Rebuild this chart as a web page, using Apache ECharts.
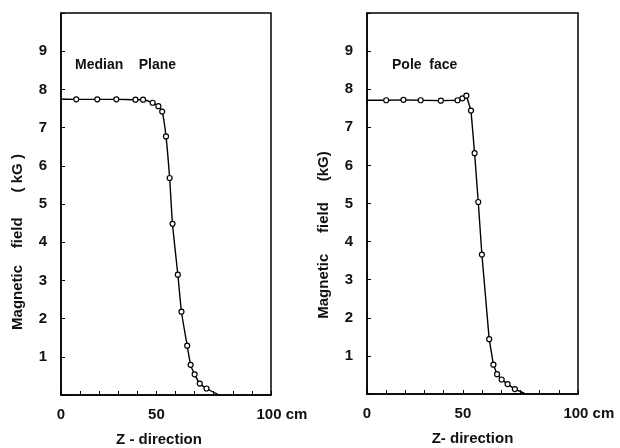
<!DOCTYPE html>
<html>
<head>
<meta charset="utf-8">
<script src="https://cdn.jsdelivr.net/npm/echarts@6/dist/echarts.min.js"></script>
<style>
  html, body { margin: 0; padding: 0; background: #fff; }
  #chart { width: 620px; height: 448px; }
</style>
</head>
<body>
<div id="chart"></div>
<script>
// z position (cm) and field (kG)
var medianZ = [0, 8, 19, 29, 39, 43, 48, 51, 53, 55, 56.9, 58.4, 61.2, 63.1, 66.1, 67.9, 70, 72.7, 76.2, 82];
var medianB = [7.75, 7.74, 7.74, 7.74, 7.73, 7.73, 7.65, 7.56, 7.42, 6.77, 5.68, 4.48, 3.15, 2.18, 1.29, 0.79, 0.54, 0.3, 0.17, 0.02];
var poleZ = [0, 10, 19, 28, 38.5, 47.2, 49.7, 51.8, 54.2, 56.1, 58, 59.9, 63.7, 65.9, 67.8, 70.2, 73.3, 77.1, 82];
var poleB = [7.71, 7.71, 7.72, 7.71, 7.7, 7.71, 7.76, 7.83, 7.44, 6.32, 5.04, 3.66, 1.44, 0.77, 0.52, 0.38, 0.26, 0.13, 0.02];
var xLabels = { 0: '0', 50: '50', 100: '{far|100 cm}' };
var yTicks = [1, 2, 3, 4, 5, 6, 7, 8, 9];

var font = 'Liberation Sans';

function points(xs, ys) {
  var out = [];
  for (var i = 0; i < xs.length; i++) {
    var p = { value: [xs[i], ys[i]] };
    // line runs in from the axis and out into it; no circle there
    if (i === 0 || i === xs.length - 1) p.symbol = 'none';
    out.push(p);
  }
  return out;
}

function xAxis(idx, pad) {
  return {
    gridIndex: idx,
    type: 'value',
    min: 0,
    max: 110,
    interval: 10,
    name: idx === 0 ? 'Z - direction' : 'Z- direction',
    nameLocation: 'middle',
    nameGap: 37,
    nameTextStyle: { fontFamily: font, fontSize: 15, fontWeight: 'bold', color: '#111', padding: pad },
    axisLine: { show: true, lineStyle: { color: '#000', width: 1.5 } },
    axisTick: { show: true, inside: true, length: 4, lineStyle: { color: '#000' } },
    axisLabel: {
      interval: 0,
      margin: 12,
      fontFamily: font,
      fontSize: 15,
      fontWeight: 'bold',
      color: '#111',
      formatter: function (v) { return xLabels[v] || ''; },
      rich: { far: { fontFamily: font, fontSize: 15, fontWeight: 'bold', color: '#111', padding: [0, 0, 0, 60] } }
    },
    splitLine: { show: false }
  };
}

function yAxis(idx, name, pad) {
  return {
    gridIndex: idx,
    type: 'value',
    min: 0,
    max: 10,
    interval: 1,
    name: name,
    nameLocation: 'middle',
    nameGap: 36,
    nameTextStyle: { fontFamily: font, fontSize: 15, fontWeight: 'bold', color: '#111', padding: pad },
    axisLine: { show: true, lineStyle: { color: '#000', width: 1.5 } },
    axisTick: { show: true, inside: true, length: 4, lineStyle: { color: '#000' } },
    axisLabel: {
      margin: 14,
      fontFamily: font,
      fontSize: 15,
      fontWeight: 'bold',
      color: '#111',
      formatter: function (v) { return yTicks.indexOf(v) >= 0 ? String(v) : ''; }
    },
    splitLine: { show: false }
  };
}

function series(idx, xs, ys, smooth) {
  return {
    type: 'line',
    xAxisIndex: idx,
    yAxisIndex: idx,
    data: points(xs, ys),
    smooth: smooth,
    symbol: 'circle',
    symbolSize: 5,
    showAllSymbol: true,
    lineStyle: { color: '#000', width: 1.4 },
    itemStyle: { color: '#fff', borderColor: '#000', borderWidth: 1.2 },
    animation: false
  };
}

var option = {
  backgroundColor: '#fff',
  animation: false,
  title: [
    { text: 'Median    Plane', left: 75, top: 58, padding: 0,
      textStyle: { fontFamily: font, fontSize: 14, fontWeight: 'bold', color: '#111' } },
    { text: 'Pole  face', left: 392, top: 58, padding: 0,
      textStyle: { fontFamily: font, fontSize: 14, fontWeight: 'bold', color: '#111' } }
  ],
  grid: [
    { left: 61, top: 13, width: 210, height: 382, show: true, borderColor: '#000', borderWidth: 1.5, outerBoundsMode: 'none' },
    { left: 367, top: 13, width: 211, height: 381, show: true, borderColor: '#000', borderWidth: 1.5, outerBoundsMode: 'none' }
  ],
  xAxis: [xAxis(0, [0, 14, 0, 0]), xAxis(1, [0, 0, 0, 0])],
  yAxis: [
    yAxis(0, 'Magnetic    field      ( kG )', [0, 76, 0, 0]),
    yAxis(1, 'Magnetic     field     (kG)', [0, 63, 0, 0])
  ],
  series: [
    series(0, medianZ, medianB, 0.2),
    series(1, poleZ, poleB, false)
  ]
};

var myChart = echarts.init(document.getElementById('chart'));
myChart.setOption(option);
</script>
</body>
</html>
